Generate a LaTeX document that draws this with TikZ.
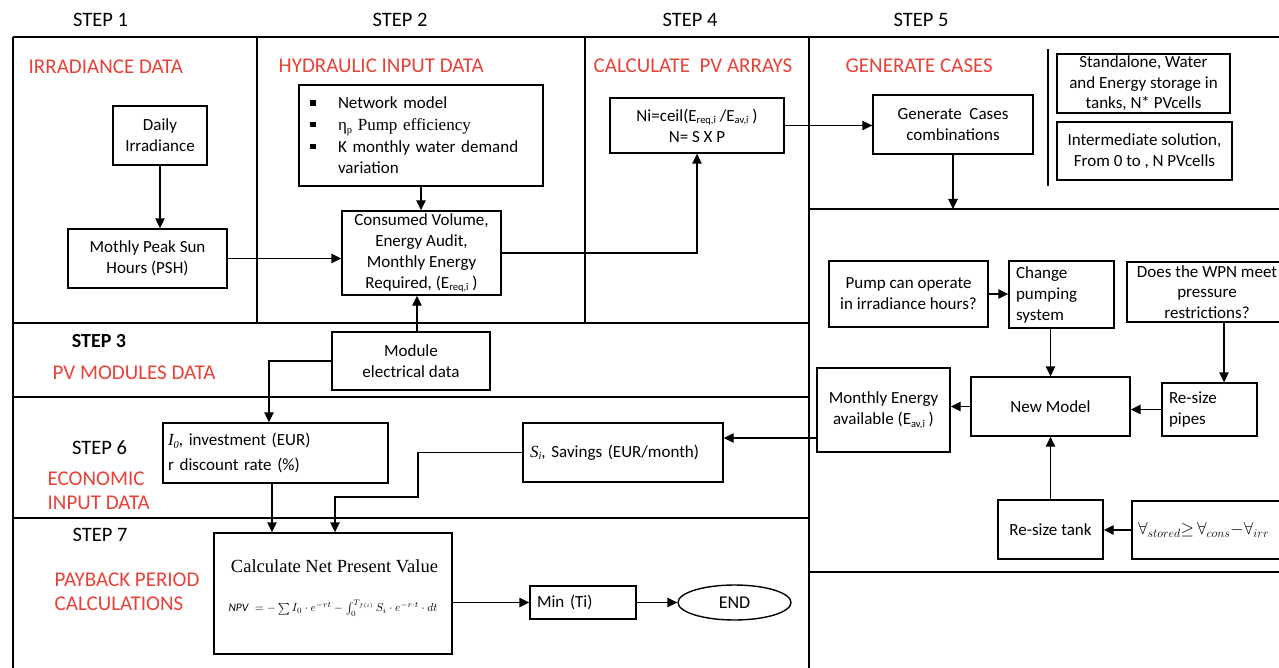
\documentclass[tikz,border=0pt]{standalone}
\usepackage{fontspec}
\setmainfont{Carlito}
\newfontfamily\serifA{Liberation Serif}
\usetikzlibrary{arrows.meta,calc,shapes.geometric}
\definecolor{hred}{RGB}{232,66,56}
\newcommand\lsub[1]{\raisebox{-0.35ex}{\fontsize{10.5}{10.5}\selectfont #1}}
\newcommand\bul{\makebox[31pt][l]{\hspace{3pt}\rule[3pt]{5.5pt}{5.5pt}}}
\begin{document}
\begin{tikzpicture}[x=1pt,y=-1pt,line width=1.4pt,
  arr/.style={-{Triangle[length=10pt,width=9.5pt]}},
  box/.style={draw, inner sep=0pt, align=center, font=\fontsize{17}{21}\selectfont},
  head/.style={text=hred, font=\fontsize{21}{24}\selectfont, anchor=west, inner sep=0pt},
  stp/.style={font=\fontsize{20.5}{24}\selectfont, inner sep=0pt}]
\clip (0,0) rectangle (1279,668);
\fill[white] (0,0) rectangle (1279,668);
% frame
\draw (13,37) -- (1279,37);
\draw (13,37) -- (13,668);
\draw (257,37) -- (257,323);
\draw (585,37) -- (585,323);
\draw (809,37) -- (809,668);
\draw (13,323) -- (809,323);
\draw (13,397) -- (809,397);
\draw[line width=2.6pt] (13,518) -- (809,518);
\draw (809,209) -- (1279,209);
\draw (809,572) -- (1279,572);
\draw (1048,49) -- (1048,186);
% step labels
\node[stp] (s1) at (100.5,20) {STEP 1};
\node[stp] (s2) at (400,20) {STEP 2};
\node[stp] (s4) at (690,20) {STEP 4};
\node[stp] (s5) at (921,20) {STEP 5};
\node[stp, font=\bfseries\fontsize{20}{24}\selectfont] (s3) at (99,341) {STEP 3};
\node[stp] (s6) at (99.5,448) {STEP 6};
\node[stp] (s7) at (100,535) {STEP 7};
% headings
\node[head] (h1) at (28,67) {IRRADIANCE DATA};
\node[head] (h2) at (278,66) {HYDRAULIC INPUT DATA};
\node[head] (h4) at (593,66) {CALCULATE\ \ PV ARRAYS};
\node[head] (h5) at (845,66) {GENERATE CASES};
\node[head] (h3) at (52,373) {PV MODULES DATA};
\node[head, align=left] (h6) at (47,490.5) {ECONOMIC\\INPUT DATA};
\node[head, align=left] (h7) at (54,591.5) {PAYBACK PERIOD\\CALCULATIONS};
% boxes
\node[box, minimum width=94, minimum height=59] (daily) at (160,135.5) {Daily\\Irradiance};
\node[box, minimum width=159, minimum height=59] (psh) at (147.5,258.5) {Mothly Peak Sun\\Hours (PSH)};
\node[box, minimum width=244, minimum height=101, text width=228, align=left, inner xsep=8pt, font=\fontsize{17}{21.7}\selectfont] (net) at (421,135.5)
  {\bul Network model\\\bul{\serifA η\lsub{p} Pump efficiency}\\\bul K monthly water demand\\\hspace*{31pt}variation};
\node[box, minimum width=159, minimum height=84] (cons) at (421.5,253) {Consumed Volume,\\Energy Audit,\\Monthly Energy\\Required, (E\lsub{req,i} )};
\node[box, minimum width=174, minimum height=55] (ni) at (697,125.5) {Ni=ceil(E\lsub{req,i} /E\lsub{av,i} )\\N= S X P};
\node[box, minimum width=160, minimum height=59] (gen) at (953,124.5) {Generate\ \ Cases\\combinations};
\node[box, minimum width=173, minimum height=59, font=\fontsize{17}{20.5}\selectfont] (stand) at (1143.5,83.5) {Standalone, Water\\and Energy storage in\\tanks, N* PVcells};
\node[box, minimum width=175, minimum height=58] (inter) at (1144.5,151) {Intermediate solution,\\From 0 to , N PVcells};
\node[box, minimum width=159, minimum height=66] (pump) at (908.5,294) {Pump can operate\\in irradiance hours?};
\node[box, minimum width=105, minimum height=67, text width=91, align=left, inner xsep=7pt] (change) at (1061.5,294.5) {Change\\pumping\\system};
\node[box, minimum width=160, minimum height=60, font=\fontsize{17}{20.5}\selectfont] (does) at (1207,292) {Does the WPN meet\\pressure\\restrictions?};
\node[box, minimum width=159, minimum height=59] (newm) at (1050.5,406.5) {New Model};
\node[box, minimum width=95, minimum height=53, text width=81, align=left, inner xsep=7pt] (pipes) at (1209.5,409.5) {Re-size\\pipes};
\node[box, minimum width=133, minimum height=84] (mea) at (883.5,410) {Monthly Energy\\available (E\lsub{av,i} )};
\node[box, minimum width=105, minimum height=59] (tank) at (1050.5,529.5) {Re-size tank};
\node[box, minimum width=170, minimum height=58, font=\fontsize{18.5}{22}\selectfont] (form) at (1217,530) {\makebox[158pt][l]{$\forall_{stored}{\geq}\,\forall_{cons}{-}\forall_{irr}$}};
\node[box, minimum width=158, minimum height=58] (module) at (411,361) {Module\\electrical data};
\node[box, minimum width=225, minimum height=60, text width=215, align=left, inner xsep=5pt, font=\fontsize{17}{25}\selectfont] (inv) at (275.5,453) {{\serifA\itshape I\lsub{\itshape 0}}, investment (EUR)\\r discount rate (\%)};
\node[box, minimum width=200, minimum height=59, text width=186, align=left, inner xsep=7pt] (sav) at (623,452.5) {{\serifA\itshape S\lsub{\itshape i}}, Savings (EUR/month)};
\node[box, minimum width=238, minimum height=121] (npv) at (333,593.5) {};
\node[inner sep=0pt, font=\serifA\fontsize{18.5}{20}\selectfont] (npvt) at (334.5,566) {Calculate Net Present Value};
\node[inner sep=0pt] (npvf) at (333,608) {\resizebox{209pt}{!}{$\mathit{NPV}\;=-\sum I_0\cdot e^{-rt}-\int_0^{T_{f(i)}} S_i\cdot e^{-r\cdot t}\cdot dt$}};
\node[box, minimum width=106, minimum height=33, text width=92, align=left, inner xsep=7pt] (min) at (583,602.5) {Min (Ti)};
\node[draw, ellipse, minimum width=113, minimum height=35, inner sep=0pt, font=\fontsize{18}{21}\selectfont] (end) at (734.5,602.5) {END};
% connectors
\draw[arr] (daily.south) -- (daily.south |- psh.north);
\draw[arr] (psh.east) -- (psh.east -| cons.west);
\draw[arr] (net.south) -- (net.south |- cons.north);
\draw[arr] (cons.east) -| (ni.south);
\coordinate (mtop) at ($(module.north)+(6,0)$);
\draw[arr] (mtop) -- (mtop |- cons.south);
\draw[arr] (ni.east) -- (ni.east -| gen.west);
\coordinate (c5) at (953,209);
\draw[arr] (gen.south) -- (gen.south |- c5);
\draw[arr] (pump.east) -- (pump.east -| change.west);
\draw[arr] (newm.north |- change.south) -- (newm.north);
\coordinate (ptop) at ($(pipes.north)+(14.5,0)$);
\draw[arr] (ptop |- does.south) -- (ptop);
\draw[arr] (pipes.west) -- (pipes.west -| newm.east);
\draw[arr] (newm.west) -- (newm.west -| mea.east);
\draw[arr] (tank.north) -- (tank.north |- newm.south);
\draw[arr] (form.west) -- (form.west -| tank.east);
\coordinate (msav) at ($(mea.west)+(0,28)$);
\draw[arr] (msav) -- (msav -| sav.east);
\coordinate (itop) at ($(inv.north)+(-6.5,0)$);
\draw[arr] (module.west) -| (itop);
\coordinate (ibot) at ($(inv.south)+(-3.5,0)$);
\draw[arr] (ibot) -- (ibot |- npv.north);
\coordinate (k1) at (418,497);
\coordinate (k2) at (335,497);
\draw[arr] (sav.west) -| (k1) -- (k2) -- (k2 |- npv.north);
\draw[arr] (min.west -| npv.east) -- (min.west);
\draw[arr] (min.east) -- (end.west);
\end{tikzpicture}
\end{document}
